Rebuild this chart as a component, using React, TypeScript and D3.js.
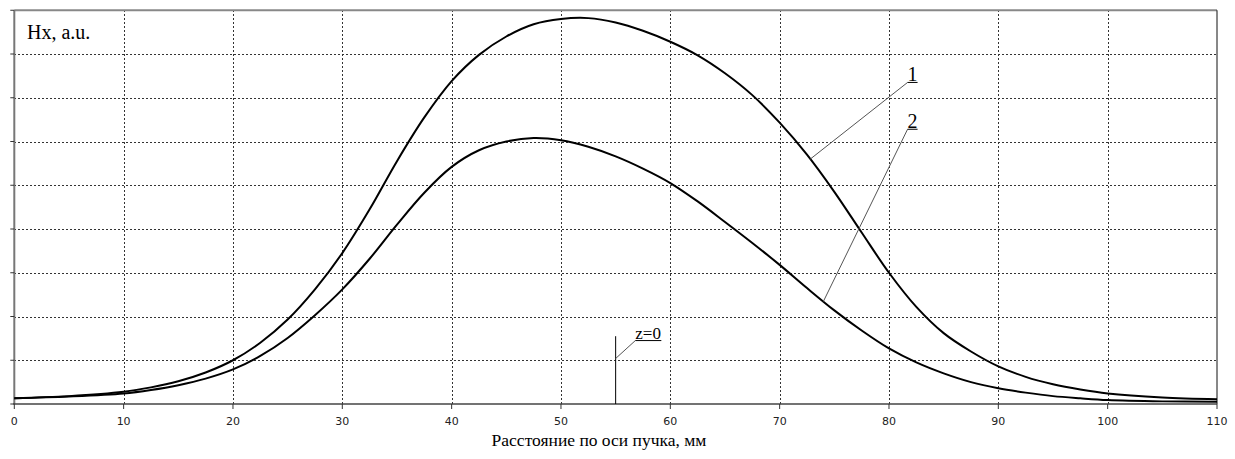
import * as d3 from "d3";

// distance along the beam axis, mm
const positions = [0, 5, 10, 12.5, 15, 17.5, 20, 22.5, 25, 27.5, 30, 32.5, 35, 37.5, 40, 42.5, 45, 47.5, 50, 52.5, 55, 57.5, 60, 62.5, 65, 67.5, 70, 72.5, 75, 77.5, 80, 82.5, 85, 87.5, 90, 92.5, 95, 97.5, 100, 105, 110];
// curve 1 (upper)
const curve1 = [0.13, 0.18, 0.28, 0.38, 0.52, 0.72, 1.0, 1.4, 1.93, 2.62, 3.45, 4.45, 5.55, 6.55, 7.38, 7.98, 8.4, 8.68, 8.8, 8.82, 8.72, 8.53, 8.28, 7.97, 7.56, 7.06, 6.43, 5.7, 4.85, 3.92, 3.0, 2.22, 1.62, 1.2, 0.86, 0.62, 0.45, 0.33, 0.24, 0.15, 0.11];
// curve 2 (lower)
const curve2 = [0.13, 0.17, 0.24, 0.32, 0.43, 0.58, 0.79, 1.1, 1.51, 2.03, 2.62, 3.32, 4.1, 4.83, 5.42, 5.8, 6.0, 6.08, 6.03, 5.88, 5.66, 5.38, 5.05, 4.63, 4.16, 3.68, 3.18, 2.65, 2.14, 1.68, 1.27, 0.95, 0.7, 0.5, 0.36, 0.26, 0.18, 0.13, 0.09, 0.06, 0.05];

const xTicks = [0, 10, 20, 30, 40, 50, 60, 70, 80, 90, 100, 110];
const yTicks = [0, 1, 2, 3, 4, 5, 6, 7, 8, 9];

// curve labels: name, point on curve (mm), label position (mm, a.u.)
const labelNames = ["1", "2"];
const labelOnCurve = [72.8, 74.0];
const labelX = [81.7, 81.7];
const labelY = [7.35, 6.28];

// z=0 marker
const zeroPos = 55;
const zeroTop = 1.55;
const zeroLeader = 1.04;
const zeroLabelX = 56.8;
const zeroLabelY = 1.45;

const W = 1235;
const H = 459;

export default function App() {
  const x = d3.scaleLinear().domain([0, 110]).range([14.3, 1217]);
  const y = d3.scaleLinear().domain([0, 9]).range([404, 10.25]);

  const series = [curve1, curve2];
  const line = d3
    .line<number>()
    .x((d, i) => x(positions[i]))
    .y((d) => y(d))
    .curve(d3.curveCatmullRom.alpha(0.5));

  const valueAt = (vals: number[], p: number) => {
    const i = Math.max(1, d3.bisectLeft(positions, p));
    const t = (p - positions[i - 1]) / (positions[i] - positions[i - 1]);
    return vals[i - 1] + t * (vals[i] - vals[i - 1]);
  };

  const serif = "'Liberation Serif', 'Times New Roman', serif";
  const sans = "'DejaVu Sans', Tahoma, sans-serif";

  return (
    <svg
      width={W}
      height={H}
      style={{ position: "absolute", left: 0, top: 0, background: "#fff" }}
    >
      {/* grid */}
      <g shapeRendering="crispEdges">
        {xTicks.slice(1, -1).map((t) => (
          <line key={"gx" + t} x1={Math.round(x(t)) + 0.5} x2={Math.round(x(t)) + 0.5} y1={y(9)} y2={y(0)} stroke="#333" strokeWidth={1} strokeDasharray="2,2" />
        ))}
        {yTicks.slice(1, -1).map((t) => (
          <line key={"gy" + t} x1={x(0)} x2={x(110)} y1={Math.round(y(t)) + 0.5} y2={Math.round(y(t)) + 0.5} stroke="#333" strokeWidth={1} strokeDasharray="2,2" />
        ))}
      </g>

      {/* frame */}
      <line x1={x(0)} x2={x(110)} y1={y(9)} y2={y(9)} stroke="#888" strokeWidth={2} />
      <line x1={x(110)} x2={x(110)} y1={y(9)} y2={y(0)} stroke="#111" strokeWidth={1} />
      <line x1={x(0)} x2={x(0)} y1={y(9)} y2={y(0)} stroke="#777" strokeWidth={2} />
      <line x1={x(0) - 1} x2={x(110)} y1={y(0)} y2={y(0)} stroke="#444" strokeWidth={1.5} />

      {/* ticks */}
      {yTicks.map((t) => (
        <line key={"ty" + t} x1={x(0) - 4} x2={x(0)} y1={y(t)} y2={y(t)} stroke="#333" strokeWidth={1} />
      ))}
      {xTicks.map((t) => (
        <g key={"tx" + t}>
          <line x1={x(t)} x2={x(t)} y1={y(0)} y2={y(0) + 5} stroke="#333" strokeWidth={1} />
          <text x={x(t)} y={425} textAnchor="middle" fontFamily={sans} fontSize={11} fill="#222">
            {t}
          </text>
        </g>
      ))}

      {/* curves */}
      {series.map((s, i) => (
        <path key={"c" + i} d={line(s) ?? ""} fill="none" stroke="#000" strokeWidth={2} />
      ))}

      {/* curve labels */}
      {labelNames.map((name, i) => {
        const px = x(labelOnCurve[i]);
        const py = y(valueAt(series[i], labelOnCurve[i]));
        const lx = x(labelX[i]);
        const ly = y(labelY[i]);
        return (
          <g key={"l" + name}>
            <line x1={px} y1={py} x2={lx} y2={ly} stroke="#555" strokeWidth={1} />
            <line x1={lx} y1={ly} x2={lx + 10} y2={ly} stroke="#000" strokeWidth={1} />
            <text x={lx + 5} y={ly - 1} textAnchor="middle" fontFamily={serif} fontSize={20} fill="#000">
              {name}
            </text>
          </g>
        );
      })}

      {/* z=0 marker */}
      <line x1={x(zeroPos)} x2={x(zeroPos)} y1={y(0)} y2={y(zeroTop)} stroke="#000" strokeWidth={1} />
      <line x1={x(zeroPos)} y1={y(zeroLeader)} x2={x(zeroLabelX)} y2={y(zeroLabelY)} stroke="#555" strokeWidth={1} />
      <line x1={x(zeroLabelX)} x2={x(zeroLabelX) + 26} y1={y(zeroLabelY)} y2={y(zeroLabelY)} stroke="#000" strokeWidth={1} />
      <text x={x(zeroLabelX)} y={y(zeroLabelY) - 1.5} fontFamily={serif} fontSize={17} fill="#000">
        z=0
      </text>

      {/* axis titles */}
      <text x={27} y={39} fontFamily={serif} fontSize={20} fill="#000">
        Hx, a.u.
      </text>
      <text x={599} y={446} textAnchor="middle" fontFamily={serif} fontSize={17.5} fill="#000">
        Расстояние по оси пучка, мм
      </text>
    </svg>
  );
}
